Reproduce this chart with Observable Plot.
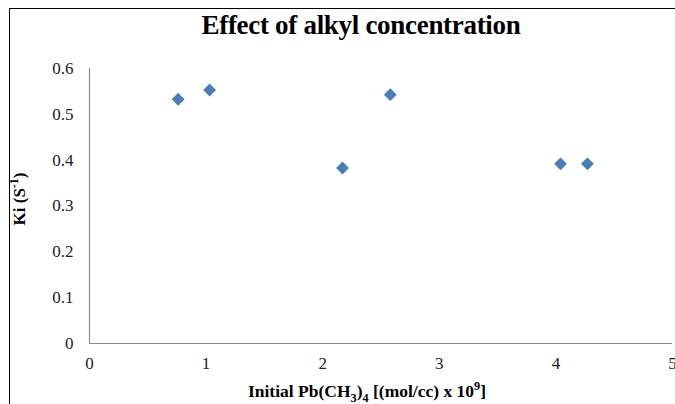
<!DOCTYPE html>
<html>
<head>
<meta charset="utf-8">
<script src="https://cdn.jsdelivr.net/npm/d3@7"></script>
<script src="https://cdn.jsdelivr.net/npm/@observablehq/plot@0.6"></script>
<style>
  html, body { margin: 0; padding: 0; background: #fff; overflow: hidden; }
  #wrap { position: relative; width: 675px; height: 404px; font-family: "Liberation Serif", "Times New Roman", serif; }
  #frame { position: absolute; left: 9px; top: 8px; width: 700px; height: 420px; border-left: 1.5px solid #000; border-top: 1.5px solid #000; }
  #title { position: absolute; left: 0; width: 722px; top: 10px; text-align: center; font-weight: bold; font-size: 27px; color: #000; letter-spacing: -0.3px; }
  #ylab { position: absolute; left: 20px; top: 199px; transform: translate(-50%, -50%) rotate(-90deg); font-weight: bold; font-size: 17px; white-space: nowrap; color: #000; }
  #xlab { position: absolute; left: 0; width: 734px; top: 381px; text-align: center; font-weight: bold; font-size: 17.5px; white-space: nowrap; color: #000; }
  sub, sup { font-size: 70%; line-height: 0; }
  #chart { position: absolute; left: 0; top: 0; }
</style>
</head>
<body>
<div id="wrap">
  <div id="frame"></div>
  <div id="chart"></div>
  <div id="title">Effect of alkyl concentration</div>
  <div id="ylab">Ki (S<sup>-1</sup>)</div>
  <div id="xlab">Initial Pb(CH<sub>3</sub>)<sub>4</sub> [(mol/cc) x 10<sup>9</sup>]</div>
</div>
<script>
const concentration = [0.76, 1.03, 2.17, 2.58, 4.04, 4.27];
const ki = [0.533, 0.553, 0.383, 0.543, 0.392, 0.392];
const xTicks = [0, 1, 2, 3, 4, 5];
const yTicks = [0, 0.1, 0.2, 0.3, 0.4, 0.5, 0.6];

const data = concentration.map((c, i) => ({x: c, y: ki[i]}));

const chart = Plot.plot({
  width: 675,
  height: 404,
  marginLeft: 89,
  marginRight: 3,
  marginTop: 68,
  marginBottom: 61,
  style: { fontFamily: "'Liberation Serif', 'Times New Roman', serif", fontSize: "17px", color: "#222", overflow: "visible", background: "transparent" },
  x: { domain: [0, 5], ticks: xTicks, tickSize: 0, tickPadding: 13, label: null, tickFormat: d => String(d) },
  y: { domain: [0, 0.6], ticks: yTicks, tickSize: 0, tickPadding: 16, label: null, tickFormat: d => d === 0 ? "0" : d3.format(".1f")(d) },
  marks: [
    Plot.ruleX([0], { stroke: "#8c8c8c", strokeWidth: 1.2 }),
    Plot.ruleY([0], { stroke: "#8c8c8c", strokeWidth: 1.2 }),
    Plot.dot(data, { x: "x", y: "y", symbol: "diamond2", r: 5.8, fill: "#4a7ebb", stroke: "none" })
  ]
});
document.getElementById("chart").appendChild(chart);
</script>
</body>
</html>
